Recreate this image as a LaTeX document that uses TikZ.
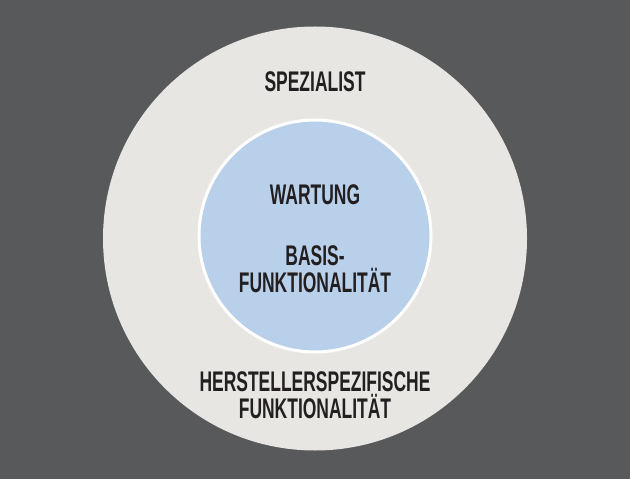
\documentclass[tikz,border=0pt]{standalone}
\usepackage{fontspec}
\newfontfamily\condfont{Liberation Sans}[FakeStretch=0.615]
\usepackage{tikz}
\usetikzlibrary{positioning}
\definecolor{bggray}{HTML}{58595B}
\definecolor{ringgray}{HTML}{E8E6E3}
\definecolor{coreblue}{HTML}{B9D0EA}
\definecolor{txtdark}{HTML}{231F20}

\begin{document}
\begin{tikzpicture}[x=1bp, y=-1bp,
        lbl/.style={text=txtdark, align=center, inner sep=0pt,
            font=\condfont\bfseries\fontsize{28.5}{27.5}\selectfont}]
        % background and the two rings
        \fill[bggray] (0,0) rectangle (630,479);
        \node[circle, fill=ringgray, minimum size=424bp, inner sep=0pt] (outer) at (315,238.5) {};
        \node[circle, fill=coreblue, draw=white, line width=3bp, minimum size=232bp, inner sep=0pt] (core) at (315,236) {};

        \node[lbl] (spez) at (315,82) {SPEZIALIST};
        \node[lbl] (wart) at (315,195) {WARTUNG};
        \node[lbl] (basis) at (315,269) {BASIS-\\FUNKTIONALITÄT};
        \node[lbl] (herst) at (315,395) {HERSTELLERSPEZIFISCHE\\FUNKTIONALITÄT};
    \end{tikzpicture}
\end{document}
